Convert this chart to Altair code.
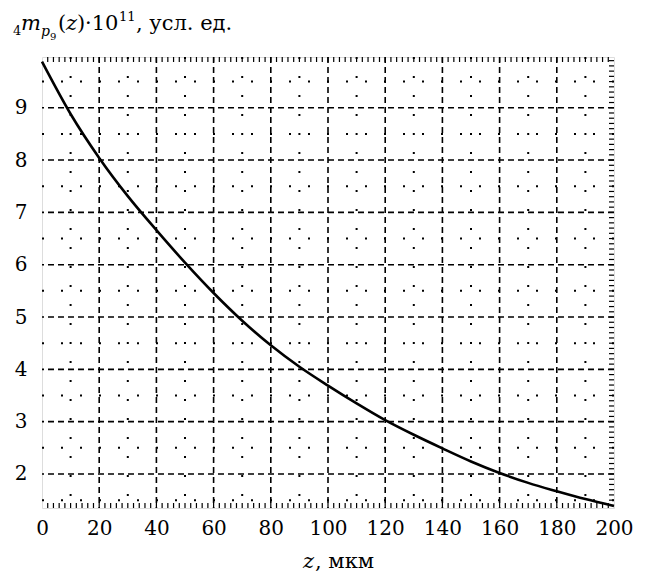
import altair as alt
import pandas as pd

# curve values
z_vals = [0, 10, 20, 30, 40, 50, 60, 70, 80, 90, 100, 110, 120, 130, 140, 150, 160, 170, 180, 190, 200]
m_vals = [9.88, 8.88, 8.04, 7.31, 6.66, 6.04, 5.46, 4.93, 4.46, 4.05, 3.69, 3.35, 3.03, 2.75, 2.49, 2.24, 2.02, 1.83, 1.67, 1.52, 1.39]

x_ticks = [0, 20, 40, 60, 80, 100, 120, 140, 160, 180, 200]
y_ticks = [2, 3, 4, 5, 6, 7, 8, 9]
x_major_grid = [20, 40, 60, 80, 100, 120, 140, 160, 180]
x_minor_grid = [10, 30, 50, 70, 90, 110, 130, 150, 170, 190]
y_major_grid = [2, 3, 4, 5, 6, 7, 8, 9]
y_minor_grid = [1.5, 2.5, 3.5, 4.5, 5.5, 6.5, 7.5, 8.5, 9.5]
x_small_ticks = list(range(2, 200, 2))
y_small_ticks = [round(1.4 + 0.1 * i, 2) for i in range(86)]

X_DOM = [0, 200]
Y_DOM = [1.35, 9.97]
W, H = 572, 451
FONT = "DejaVu Serif"

xs = alt.Scale(domain=X_DOM, nice=False, zero=False)
ys = alt.Scale(domain=Y_DOM, nice=False, zero=False)

curve_df = pd.DataFrame({"z": z_vals, "m": m_vals})
one = pd.DataFrame({"a": [0]})

base_axes = alt.Chart(curve_df).mark_line(opacity=0).encode(
    x=alt.X("z:Q", scale=xs,
            axis=alt.Axis(values=x_ticks, title=None, grid=False, ticks=False, domain=False,
                          labelFont=FONT, labelFontSize=20, labelColor="black", labelPadding=10,
                          labelFlush=False)),
    y=alt.Y("m:Q", scale=ys,
            axis=alt.Axis(values=y_ticks, title=None, grid=False, ticks=False, domain=False,
                          labelFont=FONT, labelFontSize=20, labelColor="black", labelPadding=15)),
)

def vrules(vals, dash, width):
    return alt.Chart(pd.DataFrame({"v": vals})).mark_rule(
        color="black", strokeDash=dash, strokeWidth=width
    ).encode(x=alt.X("v:Q", scale=xs))

def hrules(vals, dash, width):
    return alt.Chart(pd.DataFrame({"v": vals})).mark_rule(
        color="black", strokeDash=dash, strokeWidth=width
    ).encode(y=alt.Y("v:Q", scale=ys))

grid_major_x = vrules(x_major_grid, [6, 4], 1.6)
grid_major_y = hrules(y_major_grid, [6, 4], 1.6)
grid_minor_x = vrules(x_minor_grid, [2, 17], 2)
grid_minor_y = hrules(y_minor_grid, [2, 17], 2)

bottom_ticks = alt.Chart(pd.DataFrame({"v": x_small_ticks})).mark_rule(color="black", strokeWidth=1.2).encode(
    x=alt.X("v:Q", scale=xs), y=alt.value(H - 5), y2=alt.value(H))
top_ticks = alt.Chart(pd.DataFrame({"v": x_small_ticks})).mark_rule(color="black", strokeWidth=1.2).encode(
    x=alt.X("v:Q", scale=xs), y=alt.value(0), y2=alt.value(5))
right_ticks = alt.Chart(pd.DataFrame({"v": y_small_ticks})).mark_rule(color="black", strokeWidth=1.2).encode(
    y=alt.Y("v:Q", scale=ys), x=alt.value(W - 5), x2=alt.value(W))

curve = alt.Chart(curve_df).mark_line(color="black", strokeWidth=2.6, interpolate="monotone").encode(
    x=alt.X("z:Q", scale=xs), y=alt.Y("m:Q", scale=ys))

def t(text, x, y, size, italic=False):
    kw = dict(text=text, font=FONT, fontSize=size, align="left", baseline="alphabetic", color="black")
    if italic:
        kw["fontStyle"] = "italic"
    return alt.Chart(one).mark_text(**kw).encode(x=alt.value(x), y=alt.value(y))

xlabel = [
    t("z", 261, H + 60, 21, True),
    t(", мкм", 273, H + 60, 21),
]

title_parts = [
    t("4", -29, -22, 13),
    t("m", -21, -27, 21, True),
    t("p", -1, -21, 14, True),
    t("9", 8, -17, 10),
    t("(", 16, -27, 21),
    t("z", 24, -27, 21, True),
    t(")", 35, -27, 21),
    t("·10", 43, -27, 21),
    t("11", 77, -36, 13),
    t(", усл. ед.", 94, -27, 21),
]

chart = alt.layer(
    base_axes, grid_minor_x, grid_minor_y, grid_major_x, grid_major_y,
    bottom_ticks, top_ticks, right_ticks, curve, *xlabel, *title_parts
).properties(
    width=W, height=H,
    autosize=alt.AutoSizeParams(type="none"),
    padding={"left": 34, "top": 49, "right": 20, "bottom": 66},
).configure_view(stroke="black", strokeWidth=2.2).configure(background="white")

chart.save("out.html", embed_options={"renderer": "svg", "actions": False})
